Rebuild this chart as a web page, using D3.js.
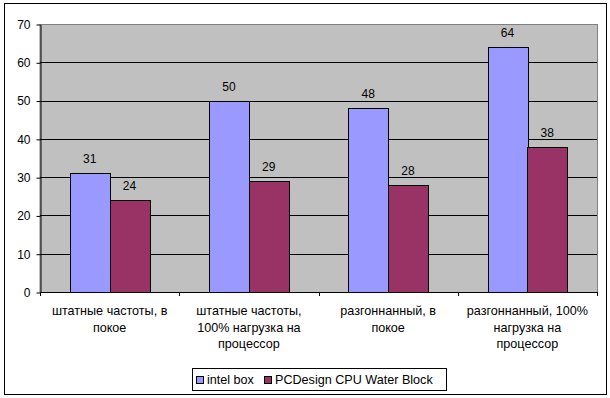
<!DOCTYPE html>
<html>
<head>
<meta charset="utf-8">
<script src="https://cdn.jsdelivr.net/npm/d3@7"></script>
<style>
  body { margin: 0; background: #fff; }
  svg { display: block; font-family: Arial, "Liberation Sans", sans-serif; }
</style>
</head>
<body>
<div id="chart"></div>
<script>
// данные графика
const categories = [
    ['штатные частоты, в', 'покое'],
    ['штатные частоты,', '100% нагрузка на', 'процессор'],
    ['разгоннанный, в', 'покое'],
    ['разгоннанный, 100%', 'нагрузка на', 'процессор']
];
const seriesNames = ['intel box', 'PCDesign CPU Water Block'];
const intelBox = [31, 50, 48, 64];
const waterBlock = [24, 29, 28, 38];
const yTicks = [0, 10, 20, 30, 40, 50, 60, 70];
const colors = ['#9999FF', '#993366'];

const width = 610, height = 398;
const plot = { left: 40, top: 24, right: 597, bottom: 292 };

const svg = d3.select('#chart').append('svg').attr('width', width).attr('height', height);

// рамка
svg.append('rect').attr('x', 4.5).attr('y', 3.5).attr('width', 602).attr('height', 391)
    .attr('fill', '#fff').attr('stroke', '#000').attr('stroke-width', 1);

const x0 = d3.scaleBand().domain(d3.range(categories.length)).range([plot.left, plot.right]);
const y = d3.scaleLinear().domain([0, 70]).range([plot.bottom, plot.top]);
// ширина зазора 75% -> 30 + 40 + 40 + 30
const x1 = d3.scaleBand().domain([0, 1]).range([0, x0.bandwidth()]).paddingOuter(0.75).paddingInner(0);

svg.append('rect').attr('x', plot.left).attr('y', plot.top + 0.5)
    .attr('width', plot.right - plot.left + 0.5).attr('height', plot.bottom - plot.top)
    .attr('fill', '#C0C0C0').attr('stroke', '#808080');

// сетка
svg.append('g').selectAll('line').data(yTicks.slice(1, -1)).enter().append('line')
    .attr('x1', plot.left).attr('x2', plot.right)
    .attr('y1', d => Math.round(y(d)) + 0.5).attr('y2', d => Math.round(y(d)) + 0.5)
    .attr('stroke', '#000');

// ось Y
const yAxis = svg.append('g').attr('transform', `translate(${plot.left + 0.5},0.5)`)
    .call(d3.axisLeft(y).tickValues(yTicks).tickSize(4).tickPadding(6).tickSizeOuter(0));
yAxis.select('.domain').attr('stroke', '#000');
yAxis.selectAll('.tick line').attr('stroke', '#000');
yAxis.selectAll('text').attr('font-size', 12).attr('fill', '#000')
    .attr('font-family', 'Arial, "Liberation Sans", sans-serif');

// столбцы
const series = [intelBox, waterBlock];
const groups = svg.append('g').selectAll('g').data(series).enter().append('g');
groups.selectAll('rect').data((d, si) => d.map((v, i) => ({ v, i, si }))).enter().append('rect')
    .attr('x', d => Math.round(x0(d.i) + x1(d.si)) + 0.5)
    .attr('y', d => Math.round(y(d.v)) + 0.5)
    .attr('width', Math.round(x1.bandwidth()))
    .attr('height', d => Math.round(y(0)) - Math.round(y(d.v)))
    .attr('fill', d => colors[d.si])
    .attr('stroke', '#000');

groups.selectAll('text').data((d, si) => d.map((v, i) => ({ v, i, si }))).enter().append('text')
    .attr('x', d => x0(d.i) + x1(d.si) + x1.bandwidth() / 2)
    .attr('y', d => y(d.v) - 10)
    .attr('text-anchor', 'middle').attr('font-size', 12).attr('fill', '#000')
    .text(d => d.v);

// ось X
const xAxisG = svg.append('g');
xAxisG.append('line').attr('x1', plot.left).attr('x2', plot.right + 1)
    .attr('y1', plot.bottom + 0.5).attr('y2', plot.bottom + 0.5).attr('stroke', '#000');
xAxisG.selectAll('.tk').data(d3.range(categories.length + 1)).enter().append('line')
    .attr('x1', i => Math.round(plot.left + i * x0.bandwidth()) + 0.5)
    .attr('x2', i => Math.round(plot.left + i * x0.bandwidth()) + 0.5)
    .attr('y1', plot.bottom).attr('y2', plot.bottom + 4).attr('stroke', '#000');

const catText = xAxisG.selectAll('text').data(categories).enter().append('text')
    .attr('text-anchor', 'middle').attr('font-size', 12.6).attr('fill', '#000')
    .attr('transform', (d, i) => `translate(${x0(i) + x0.bandwidth() / 2},315)`);
catText.selectAll('tspan').data(d => d).enter().append('tspan')
    .attr('x', 0).attr('y', (d, j) => j * 16.5).text(d => d);

// легенда
const legend = svg.append('g');
legend.append('rect').attr('x', 192.5).attr('y', 368.5).attr('width', 254).attr('height', 22)
    .attr('fill', '#fff').attr('stroke', '#000');
const legendX = [196, 264];
seriesNames.forEach((name, i) => {
    legend.append('rect').attr('x', legendX[i] + 0.5).attr('y', 376.5).attr('width', 7).attr('height', 7)
        .attr('fill', colors[i]).attr('stroke', '#000');
    legend.append('text').attr('x', legendX[i] + 11).attr('y', 384)
        .attr('font-size', 12.6).attr('fill', '#000').text(name);
});
</script>
</body>
</html>
